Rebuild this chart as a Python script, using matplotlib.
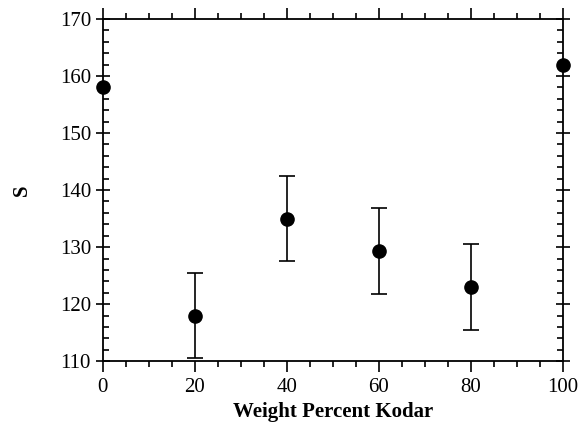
import matplotlib
matplotlib.use("Agg")
import matplotlib.pyplot as plt
import numpy as np
from matplotlib.ticker import MultipleLocator

# Kodar blend data
kodar_pct = [0, 20, 40, 60, 80, 100]
s_value = [158, 118, 135, 129.3, 123, 162]
s_err = [0, 7.5, 7.4, 7.5, 7.6, 0]

plt.rcParams['font.family'] = ['Liberation Serif', 'DejaVu Serif']

fig = plt.figure(figsize=(5.81, 4.29), dpi=100)
ax = fig.add_axes([0.177, 0.158, 0.792, 0.798])

x = np.array(kodar_pct)
y = np.array(s_value)
e = np.array(s_err)
has_err = e > 0

# error bars only where a spread was measured
ax.errorbar(x[has_err], y[has_err], yerr=e[has_err], fmt='none', ecolor='black',
            elinewidth=1.2, capsize=6, capthick=1.2, zorder=2)
ax.plot(x, y, 'o', color='black', markersize=9.5, clip_on=False, zorder=3)

ax.set_xlim(0, 100)
ax.set_ylim(110, 170)
ax.xaxis.set_major_locator(MultipleLocator(20))
ax.xaxis.set_minor_locator(MultipleLocator(5))
ax.yaxis.set_major_locator(MultipleLocator(10))
ax.yaxis.set_minor_locator(MultipleLocator(2))

ax.tick_params(which='both', top=True, right=True, labelsize=15, width=1.2)
ax.tick_params(axis='x', which='major', direction='out', length=8, pad=4)
ax.tick_params(axis='x', which='minor', direction='out', length=4)
ax.tick_params(axis='y', which='major', direction='inout', length=10)
ax.tick_params(axis='y', which='minor', direction='in', length=4)

for sp in ax.spines.values():
    sp.set_linewidth(1.3)

ax.set_xlabel('Weight Percent Kodar', fontsize=15, fontweight='bold', labelpad=4)
ax.set_ylabel('S', fontsize=15, fontweight='bold', labelpad=20)

fig.savefig('out.png', dpi=100)
